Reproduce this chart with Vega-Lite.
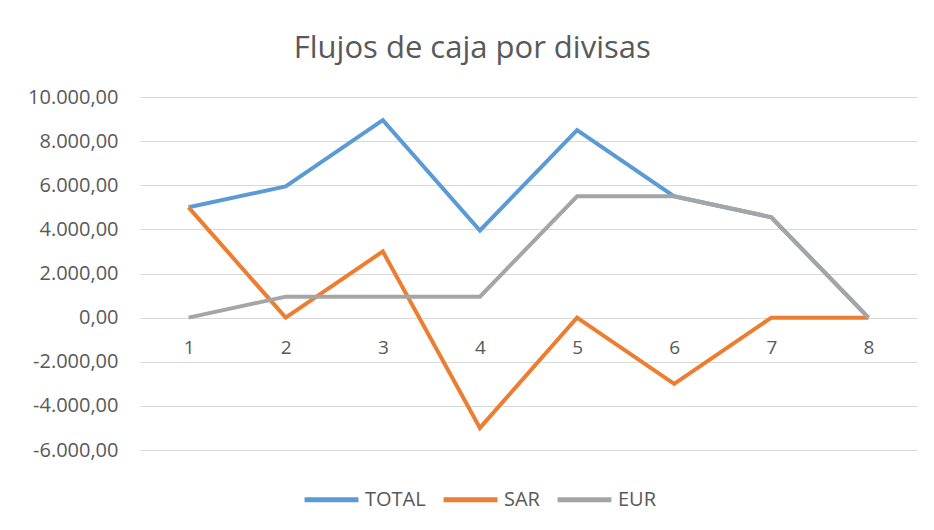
{
  "$schema": "https://vega.github.io/schema/vega-lite/v6.json",
  "width": 777,
  "height": 353,
  "autosize": {"type": "none"},
  "padding": {"left": 140, "top": 97, "right": 17, "bottom": 80},
  "background": "white",
  "title": {
    "text": "Flujos de caja por divisas",
    "anchor": "middle",
    "frame": "bounds",
    "font": "Open Sans",
    "fontSize": 31,
    "fontWeight": "normal",
    "color": "#595959",
    "offset": 22
  },
  "data": {
    "values": [
      {"periodo": "1", "divisa": "TOTAL", "valor": 5000},
      {"periodo": "2", "divisa": "TOTAL", "valor": 5950},
      {"periodo": "3", "divisa": "TOTAL", "valor": 8950},
      {"periodo": "4", "divisa": "TOTAL", "valor": 3950},
      {"periodo": "5", "divisa": "TOTAL", "valor": 8500},
      {"periodo": "6", "divisa": "TOTAL", "valor": 5500},
      {"periodo": "7", "divisa": "TOTAL", "valor": 4550},
      {"periodo": "8", "divisa": "TOTAL", "valor": 0},
      {"periodo": "1", "divisa": "SAR", "valor": 5000},
      {"periodo": "2", "divisa": "SAR", "valor": 0},
      {"periodo": "3", "divisa": "SAR", "valor": 3000},
      {"periodo": "4", "divisa": "SAR", "valor": -5000},
      {"periodo": "5", "divisa": "SAR", "valor": 0},
      {"periodo": "6", "divisa": "SAR", "valor": -3000},
      {"periodo": "7", "divisa": "SAR", "valor": 0},
      {"periodo": "8", "divisa": "SAR", "valor": 0},
      {"periodo": "1", "divisa": "EUR", "valor": 0},
      {"periodo": "2", "divisa": "EUR", "valor": 950},
      {"periodo": "3", "divisa": "EUR", "valor": 950},
      {"periodo": "4", "divisa": "EUR", "valor": 950},
      {"periodo": "5", "divisa": "EUR", "valor": 5500},
      {"periodo": "6", "divisa": "EUR", "valor": 5500},
      {"periodo": "7", "divisa": "EUR", "valor": 4550},
      {"periodo": "8", "divisa": "EUR", "valor": 0}
    ]
  },
  "mark": {"type": "line", "strokeWidth": 4, "strokeJoin": "miter"},
  "encoding": {
    "x": {
      "field": "periodo",
      "type": "ordinal",
      "scale": {"type": "point", "padding": 0.5},
      "axis": {
        "title": null,
        "labelAngle": 0,
        "domain": false,
        "ticks": false,
        "grid": false,
        "offset": -132,
        "labelPadding": 20,
        "labelBaseline": "top",
        "labelFont": "Open Sans",
        "labelFontSize": 19,
        "labelColor": "#595959"
      }
    },
    "y": {
      "field": "valor",
      "type": "quantitative",
      "scale": {"domain": [-6000, 10000], "nice": false, "zero": false},
      "axis": {
        "title": null,
        "values": [-6000, -4000, -2000, 0, 2000, 4000, 6000, 8000, 10000],
        "format": ",.2f",
        "domain": false,
        "ticks": false,
        "labelPadding": 22,
        "labelFont": "Open Sans",
        "labelFontSize": 20,
        "labelColor": "#595959",
        "gridColor": "#d9d9d9",
        "gridWidth": 1
      }
    },
    "color": {
      "field": "divisa",
      "type": "nominal",
      "sort": ["TOTAL", "SAR", "EUR"],
      "scale": {"domain": ["TOTAL", "SAR", "EUR"], "range": ["#5b9bd5", "#ed7d31", "#a5a5a5"]},
      "legend": {
        "title": null,
        "orient": "none",
        "legendX": 162,
        "legendY": 373,
        "direction": "horizontal",
        "symbolType": "stroke",
        "symbolSize": 2900,
        "symbolStrokeWidth": 5,
        "labelFont": "Open Sans",
        "labelFontSize": 20,
        "labelColor": "#595959",
        "labelOffset": 4,
        "columnPadding": 7
      }
    }
  },
  "config": {
    "view": {"stroke": null},
    "locale": {
      "number": {"decimal": ",", "thousands": ".", "grouping": [3], "currency": ["", " €"], "minus": "-"}
    }
  }
}
